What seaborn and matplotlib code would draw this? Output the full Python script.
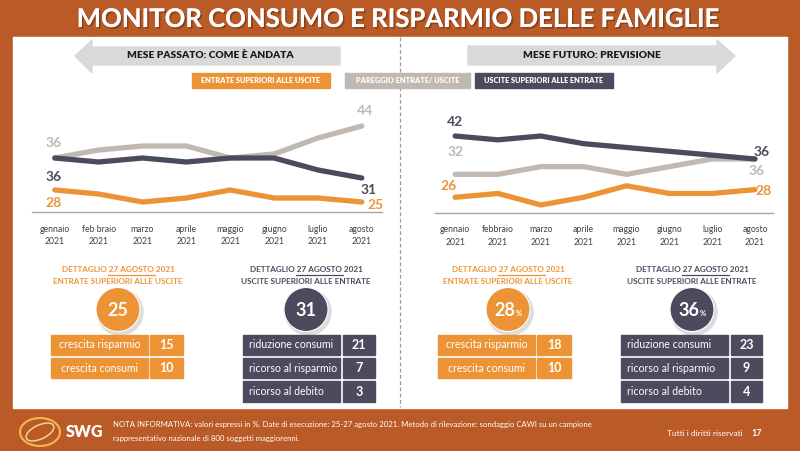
import numpy as np
import matplotlib
matplotlib.use('Agg')
import matplotlib.pyplot as plt
import matplotlib.patches as mpatches
import matplotlib.patheffects as pe
import pandas as pd
import seaborn as sns

# dati
mesi_sx = ['gennaio\n2021', 'feb braio\n2021', 'marzo\n2021', 'aprile\n2021',
           'maggio\n2021', 'giugno\n2021', 'luglio\n2021', 'agosto\n2021']
mesi_dx = ['gennaio\n2021', 'febbraio\n2021', 'marzo\n2021', 'aprile\n2021',
           'maggio\n2021', 'giugno\n2021', 'luglio\n2021', 'agosto\n2021']

# mese passato: come è andata
passato_entrate = [28, 27, 25, 26, 28, 26, 26, 25]
passato_pareggio = [36, 38, 39, 39, 36, 37, 41, 44]
passato_uscite = [36, 35, 36, 35, 36, 36, 33, 31]

# mese futuro: previsione
futuro_entrate = [26, 27, 24, 26, 29, 27, 27, 28]
futuro_pareggio = [32, 32, 34, 34, 32, 34, 36, 36]
futuro_uscite = [42, 41, 42, 40, 39, 38, 37, 36]

serie = ['ENTRATE SUPERIORI ALLE USCITE', 'PAREGGIO ENTRATE/ USCITE', 'USCITE SUPERIORI ALLE ENTRATE']

# dettaglio 27 agosto
dett_entrate = ['crescita risparmio', 'crescita consumi']
dett_uscite = ['riduzione consumi', 'ricorso al risparmio', 'ricorso al debito']
passato_val_entrate = [15, 10]
passato_val_uscite = [21, 7, 3]
futuro_val_entrate = [18, 10]
futuro_val_uscite = [23, 9, 4]

ARANCIO = '#EC9435'
GRIGIO = '#C0B9B3'
SCURO = '#4D4A5D'
SFONDO = '#B95A27'
palette = {serie[0]: ARANCIO, serie[1]: GRIGIO, serie[2]: SCURO}

sns.set_theme(style='white')
plt.rcParams['font.family'] = ['Lato', 'DejaVu Sans']

W, H = 800, 451
fig = plt.figure(figsize=(W / 100, H / 100), dpi=100)
fig.patch.set_facecolor(SFONDO)
renderer = fig.canvas.get_renderer()

# asse di sfondo in pixel
deco = fig.add_axes([0, 0, 1, 1], zorder=1)
deco.set_xlim(0, W)
deco.set_ylim(H, 0)
deco.axis('off')

deco.add_patch(mpatches.Rectangle((13, 37), 774, 371, color='white', zorder=1))
deco.plot([400, 400], [37, 407], ls=(0, (3, 2)), color='#9A9A9A', lw=0.9, zorder=2)

deco.text(400, 19, 'MONITOR CONSUMO E RISPARMIO DELLE FAMIGLIE', color='white', fontsize=18.5,
          fontweight='bold', ha='center', va='center', zorder=3,
          path_effects=[pe.withSimplePatchShadow(offset=(1.2, -1.2), shadow_rgbFace='#6a3010', alpha=0.6),
                        pe.Normal()])

# frecce
freccia_sx = mpatches.Polygon([(75, 56), (92, 40), (92, 47), (340, 47), (340, 65), (92, 65), (92, 73)],
                              closed=True, color='#D9D9D9', zorder=2)
freccia_dx = mpatches.Polygon([(735, 56), (717, 40), (717, 46), (468, 46), (468, 65), (717, 65), (717, 73)],
                              closed=True, color='#D9D9D9', zorder=2)
deco.add_patch(freccia_sx)
deco.add_patch(freccia_dx)
deco.text(210, 56, 'MESE PASSATO: COME È ANDATA', fontsize=7.4, fontweight='heavy', color='#1a1a1a',
          ha='center', va='center', zorder=3)
deco.text(592, 56, 'MESE FUTURO: PREVISIONE', fontsize=7.4, fontweight='heavy', color='#1a1a1a',
          ha='center', va='center', zorder=3)

# legenda
leg_box = [(192, 330), (345, 470), (475, 613)]
for (x0, x1), nome in zip(leg_box, serie):
    deco.add_patch(mpatches.Rectangle((x0, 73), x1 - x0, 15, color=palette[nome], zorder=2))
    deco.text((x0 + x1) / 2, 80.5, nome, fontsize=5.3, fontweight='heavy', color='white',
              ha='center', va='center', zorder=3)


def disegna(ax_rect, mesi, valori, ylim, xlim, etichette):
    ax = fig.add_axes(ax_rect, zorder=2)
    ax.patch.set_alpha(0)
    df = pd.DataFrame({'mese': list(range(8)) * 3,
                       'valore': valori[0] + valori[1] + valori[2],
                       'serie': [s for s in serie for _ in range(8)]})
    sns.lineplot(data=df, x='mese', y='valore', hue='serie', palette=palette, lw=3.8,
                 legend=False, ax=ax, hue_order=[serie[1], serie[2], serie[0]],
                 solid_joinstyle='round', solid_capstyle='round')
    ax.set_xlim(*xlim)
    ax.set_ylim(*ylim)
    ax.set_xticks(range(8))
    ax.set_xticklabels(mesi, fontsize=6.2, color='#404040', linespacing=1.55)
    ax.tick_params(axis='x', length=0, pad=9)
    ax.set_yticks([])
    ax.set_xlabel('')
    ax.set_ylabel('')
    for s in ['top', 'left', 'right']:
        ax.spines[s].set_visible(False)
    ax.spines['bottom'].set_color('#A6A6A6')
    ax.spines['bottom'].set_linewidth(1)
    for idx, k, dx, dy in etichette:
        ax.annotate(str(valori[k][idx]), (idx, valori[k][idx]), xytext=(dx, dy),
                    textcoords='offset points', ha='center', va='center',
                    fontsize=10, fontweight='bold', color=palette[serie[k]])
    return ax


disegna([32 / W, (H - 212) / H, 350 / W, 112 / H], mesi_sx,
        [passato_entrate, passato_pareggio, passato_uscite], (22.5, 50.5), (-0.52, 7.46),
        [(0, 1, -1, 10.5), (0, 2, -1, -13.5), (0, 0, -1, -9.5),
         (7, 1, 2, 11), (7, 2, 5, -8.5), (7, 0, 10, -2.5)])
disegna([435 / W, (H - 213) / H, 338 / W, 113 / H], mesi_dx,
        [futuro_entrate, futuro_pareggio, futuro_uscite], (21.9, 51.4), (-0.47, 7.42),
        [(0, 2, 0, 10), (0, 1, 0, 16), (0, 0, -5, 8),
         (7, 2, 5, 5), (7, 1, 1.5, -8.5), (7, 0, 6, -1)])


def larghezza(testo, size):
    t = deco.text(0, 0, testo, fontsize=size, fontweight='bold')
    w = t.get_window_extent(renderer).width
    t.remove()
    return w


def dettaglio(cx, colore, titolo2, valore, perc, voci, valori, xl0, xl1, xv0, xv1):
    fs = 5.9
    riga = 'DETTAGLIO 27 AGOSTO 2021'
    deco.text(cx, 270, riga, fontsize=fs, fontweight='bold', color=colore,
              ha='center', va='center', zorder=3)
    # sottolineatura di "27 AGOSTO "
    tot = larghezza(riga, fs)
    pre = larghezza('DETTAGLIO ', fs)
    sott = larghezza('27 AGOSTO ', fs)
    x0 = cx - tot / 2 + pre
    deco.plot([x0, x0 + sott], [275, 275], color=colore, lw=0.9, zorder=3)
    deco.text(cx, 281, titolo2, fontsize=fs, fontweight='bold', color=colore,
              ha='center', va='center', zorder=3)
    # cerchio con ombra
    deco.add_patch(mpatches.Ellipse((cx + 2, 312), 46, 46, color='#dcdcdc', zorder=2))
    deco.add_patch(mpatches.Ellipse((cx, 309.5), 44, 44, color=colore, zorder=3, ec='white', lw=0.8))
    if perc:
        deco.text(cx - 3, 310, str(valore), fontsize=13, fontweight='bold', color='white',
                  ha='center', va='center', zorder=4)
        deco.text(cx + 11, 313, '%', fontsize=5.5, fontweight='bold', color='white',
                  ha='center', va='center', zorder=4)
    else:
        deco.text(cx, 310, str(valore), fontsize=13, fontweight='bold', color='white',
                  ha='center', va='center', zorder=4)
    for i, (voce, v) in enumerate(zip(voci, valori)):
        y0 = 334.5 + i * 23.3
        deco.add_patch(mpatches.Rectangle((xl0, y0), xl1 - xl0, 20.5, color=colore, zorder=3))
        deco.add_patch(mpatches.Rectangle((xv0, y0), xv1 - xv0, 20.5, color=colore, zorder=3))
        centrato = len(voci) == 2
        deco.text((xl0 + xl1) / 2 if centrato else xl0 + 6, y0 + 10.5, voce, fontsize=7.6,
                  color='white', ha='center' if centrato else 'left', va='center', zorder=4)
        deco.text((xv0 + xv1) / 2, y0 + 10.5, str(v), fontsize=9, fontweight='bold',
                  color='white', ha='center', va='center', zorder=4)


dettaglio(118, ARANCIO, 'ENTRATE SUPERIORI ALLE USCITE', passato_entrate[-1], False,
          dett_entrate, passato_val_entrate, 51, 148, 150, 183)
dettaglio(306, SCURO, 'USCITE SUPERIORI ALLE ENTRATE', passato_uscite[-1], False,
          dett_uscite, passato_val_uscite, 243, 340, 343, 375)
dettaglio(508, ARANCIO, 'ENTRATE SUPERIORI ALLE USCITE', futuro_entrate[-1], True,
          dett_entrate, futuro_val_entrate, 438, 535, 537, 571)
dettaglio(692, SCURO, 'USCITE SUPERIORI ALLE ENTRATE', futuro_uscite[-1], True,
          dett_uscite, futuro_val_uscite, 621, 728, 731, 762)

# piè di pagina
deco.add_patch(mpatches.Ellipse((40, 432), 40, 28, fill=False, ec='#F2B84B', lw=1.5, zorder=2))
deco.add_patch(mpatches.Ellipse((40, 432), 30, 14, angle=-25, fill=False, ec='#F7DDA8', lw=1, zorder=2))
deco.text(66, 432, 'SWG', fontsize=11.5, fontweight='heavy', color='white', ha='left', va='center', zorder=3)
deco.text(113, 425, 'NOTA INFORMATIVA: valori espressi in %. Date di esecuzione: 25-27 agosto 2021. '
          'Metodo di rilevazione: sondaggio CAWI su un campione', fontsize=5.6, color='white',
          ha='left', va='center', zorder=3)
deco.text(113, 438, 'rappresentativo nazionale di 800 soggetti maggiorenni.', fontsize=5.6,
          color='white', ha='left', va='center', zorder=3)
deco.text(743, 433, 'Tutti i diritti riservati', fontsize=6, color='white', ha='right',
          va='center', zorder=3)
deco.text(757, 433, '17', fontsize=6.5, fontweight='bold', color='white', ha='center', va='center', zorder=3)

fig.savefig('out.png', dpi=100, facecolor=fig.get_facecolor())
